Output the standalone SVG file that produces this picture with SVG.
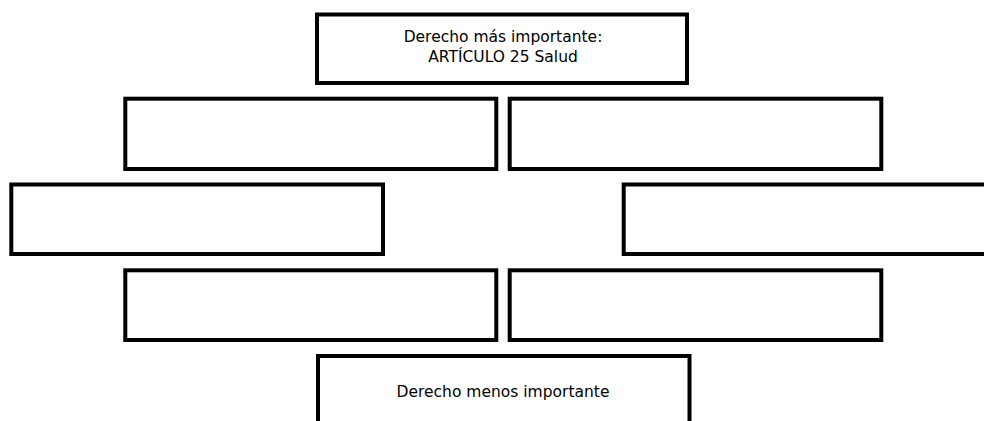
<svg xmlns="http://www.w3.org/2000/svg" width="984" height="421" viewBox="0 0 984 421">
<style>
.box{fill:#fff;stroke:#000;stroke-width:4}
.t{font-family:"DejaVu Sans","Liberation Sans",sans-serif;font-size:15.5px;fill:#000;text-anchor:middle}
</style>
<rect width="984" height="421" fill="#fff"/>
<g id="top">
<rect class="box" x="317" y="14.5" width="370" height="68.5"/>
<text class="t" x="503" y="42">Derecho más importante:</text>
<text class="t" x="503" y="62">ARTÍCULO 25 Salud</text>
</g>
<g id="r2l"><rect class="box" x="125.3" y="98.7" width="371" height="70.3"/></g>
<g id="r2r"><rect class="box" x="509.7" y="98.7" width="371.6" height="70.3"/></g>
<g id="r3l"><rect class="box" x="11.3" y="184.5" width="371.7" height="69.5"/></g>
<g id="r3r"><rect class="box" x="623.7" y="184.5" width="372" height="69.5"/></g>
<g id="r4l"><rect class="box" x="125.3" y="270.3" width="371" height="69.7"/></g>
<g id="r4r"><rect class="box" x="509.7" y="270.3" width="371.6" height="69.7"/></g>
<g id="bottom">
<rect class="box" x="318" y="356" width="371.5" height="80"/>
<text class="t" x="503" y="397">Derecho menos importante</text>
</g>
</svg>
